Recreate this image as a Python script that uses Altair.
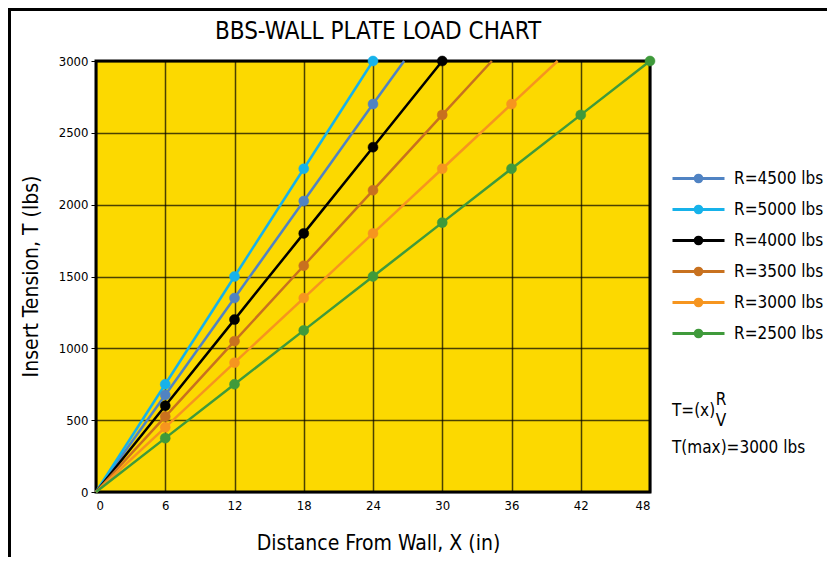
import altair as alt
import pandas as pd

# ---------------- data ----------------
series_names = ["R=4500 lbs", "R=5000 lbs", "R=4000 lbs", "R=3500 lbs", "R=3000 lbs", "R=2500 lbs"]
series_colors = ["#5083c3", "#16b2ea", "#000000", "#c8711f", "#f6951f", "#3f9a3b"]

r4500_x = [0, 6, 12, 18, 24, 26.7]
r4500_t = [0, 675, 1350, 2025, 2700, 3000]
r5000_x = [0, 6, 12, 18, 24]
r5000_t = [0, 750, 1500, 2250, 3000]
r4000_x = [0, 6, 12, 18, 24, 30]
r4000_t = [0, 600, 1200, 1800, 2400, 3000]
r3500_x = [0, 6, 12, 18, 24, 30, 34.3]
r3500_t = [0, 525, 1050, 1575, 2100, 2625, 3000]
r3000_x = [0, 6, 12, 18, 24, 30, 36, 40]
r3000_t = [0, 450, 900, 1350, 1800, 2250, 2700, 3000]
r2500_x = [0, 6, 12, 18, 24, 30, 36, 42, 48]
r2500_t = [0, 375, 750, 1125, 1500, 1875, 2250, 2625, 3000]

x_ticks = [0, 6, 12, 18, 24, 30, 36, 42, 48]
y_ticks = [0, 500, 1000, 1500, 2000, 2500, 3000]

title_text = "BBS-WALL PLATE LOAD CHART"
x_title = "Distance From Wall, X (in)"
y_title = "Insert Tension, T (lbs)"

# ---------------- table ----------------
xs = [r4500_x, r5000_x, r4000_x, r3500_x, r3000_x, r2500_x]
ts = [r4500_t, r5000_t, r4000_t, r3500_t, r3000_t, r2500_t]
rows = []
for name, xv, tv in zip(series_names, xs, ts):
    for a, b in zip(xv, tv):
        rows.append({"series": name, "x": a, "t": b,
                     "marker": (a > 0 and float(a) % 6 == 0)})
df = pd.DataFrame(rows)

FONT = "Liberation Sans Narrow, DejaVu Sans Condensed, Arial Narrow, sans-serif"

color_scale = alt.Scale(domain=series_names, range=series_colors)
legend_path = "M-2.6,0L2.6,0M0.33,0A0.33,0.33,0,1,1,-0.33,0A0.33,0.33,0,1,1,0.33,0Z"
legend = alt.Legend(
    title=None, orient="none", legendX=591, legendY=106,
    symbolType=legend_path, symbolSize=400, symbolStrokeWidth=3,
    labelFont=FONT, labelFontSize=17, labelColor="#000",
    labelOffset=24, rowPadding=10, padding=0, symbolOpacity=1,
)

xenc = alt.X("x:Q", scale=alt.Scale(domain=[0, 48], nice=False),
             axis=alt.Axis(values=x_ticks, title=x_title, tickSize=0, labelPadding=7,
                           format="d",
                           titleX=282, titleY=51, titleBaseline="middle", titleAlign="center"))
yenc = alt.Y("t:Q", scale=alt.Scale(domain=[0, 3000], nice=False),
             axis=alt.Axis(values=y_ticks, title=y_title, tickSize=5, labelPadding=3,
                           format="d",
                           titleX=-65, titleY=215, titleAngle=-90,
                           titleBaseline="middle", titleAlign="center"))

base = alt.Chart(df)
lines = base.mark_line(strokeWidth=2.5).encode(
    x=xenc, y=yenc,
    stroke=alt.Stroke("series:N", scale=color_scale, legend=legend, sort=series_names),
    detail="series:N",
)
points = base.transform_filter("datum.marker").mark_point(
    filled=True, size=100, opacity=1, strokeWidth=0.5
).encode(
    x="x:Q", y="t:Q",
    fill=alt.Fill("series:N", scale=color_scale, legend=legend, sort=series_names),
    stroke=alt.Stroke("series:N", scale=color_scale, legend=legend, sort=series_names),
)

one = pd.DataFrame({"k": [0]})
def label(txt, x, y, size=17, align="left"):
    return alt.Chart(one).mark_text(
        font=FONT, fontSize=size, color="#000", align=align, baseline="middle"
    ).encode(x=alt.value(x), y=alt.value(y), text=alt.value(txt))

ann = [
    label(title_text, 282, -29, size=24, align="center"),
    label("T=(x)", 576, 350),
    label("R", 625, 339, align="center"),
    label("V", 625, 360, align="center"),
    label("T(max)=3000 lbs", 576, 387),
]

frame_left = alt.Chart(one).mark_rule(color="#000", strokeWidth=3).encode(
    x=alt.value(-86.5), y=alt.value(-53.5), y2=alt.value(510))
frame_top = alt.Chart(one).mark_rule(color="#000", strokeWidth=3).encode(
    x=alt.value(-88), x2=alt.value(740), y=alt.value(-51.5))

chart = alt.layer(lines, points, *ann, frame_left, frame_top).properties(
    width=554, height=431,
    autosize=alt.AutoSizeParams(type="none"),
    padding={"left": 88, "top": 53, "right": 177, "bottom": 65},
    background="white",
).configure_view(
    fill="#FCD900", stroke="#000", strokeWidth=3
).configure_axis(
    grid=True, gridColor="#000", gridOpacity=0.7, gridWidth=1.5,
    domain=False, tickColor="#000",
    labelFont=FONT, labelFontSize=13, labelColor="#000",
    titleFont=FONT, titleFontSize=21, titleFontWeight="normal", titleColor="#000",
)

chart.save("out.html", embed_options={"renderer": "svg", "actions": False})
